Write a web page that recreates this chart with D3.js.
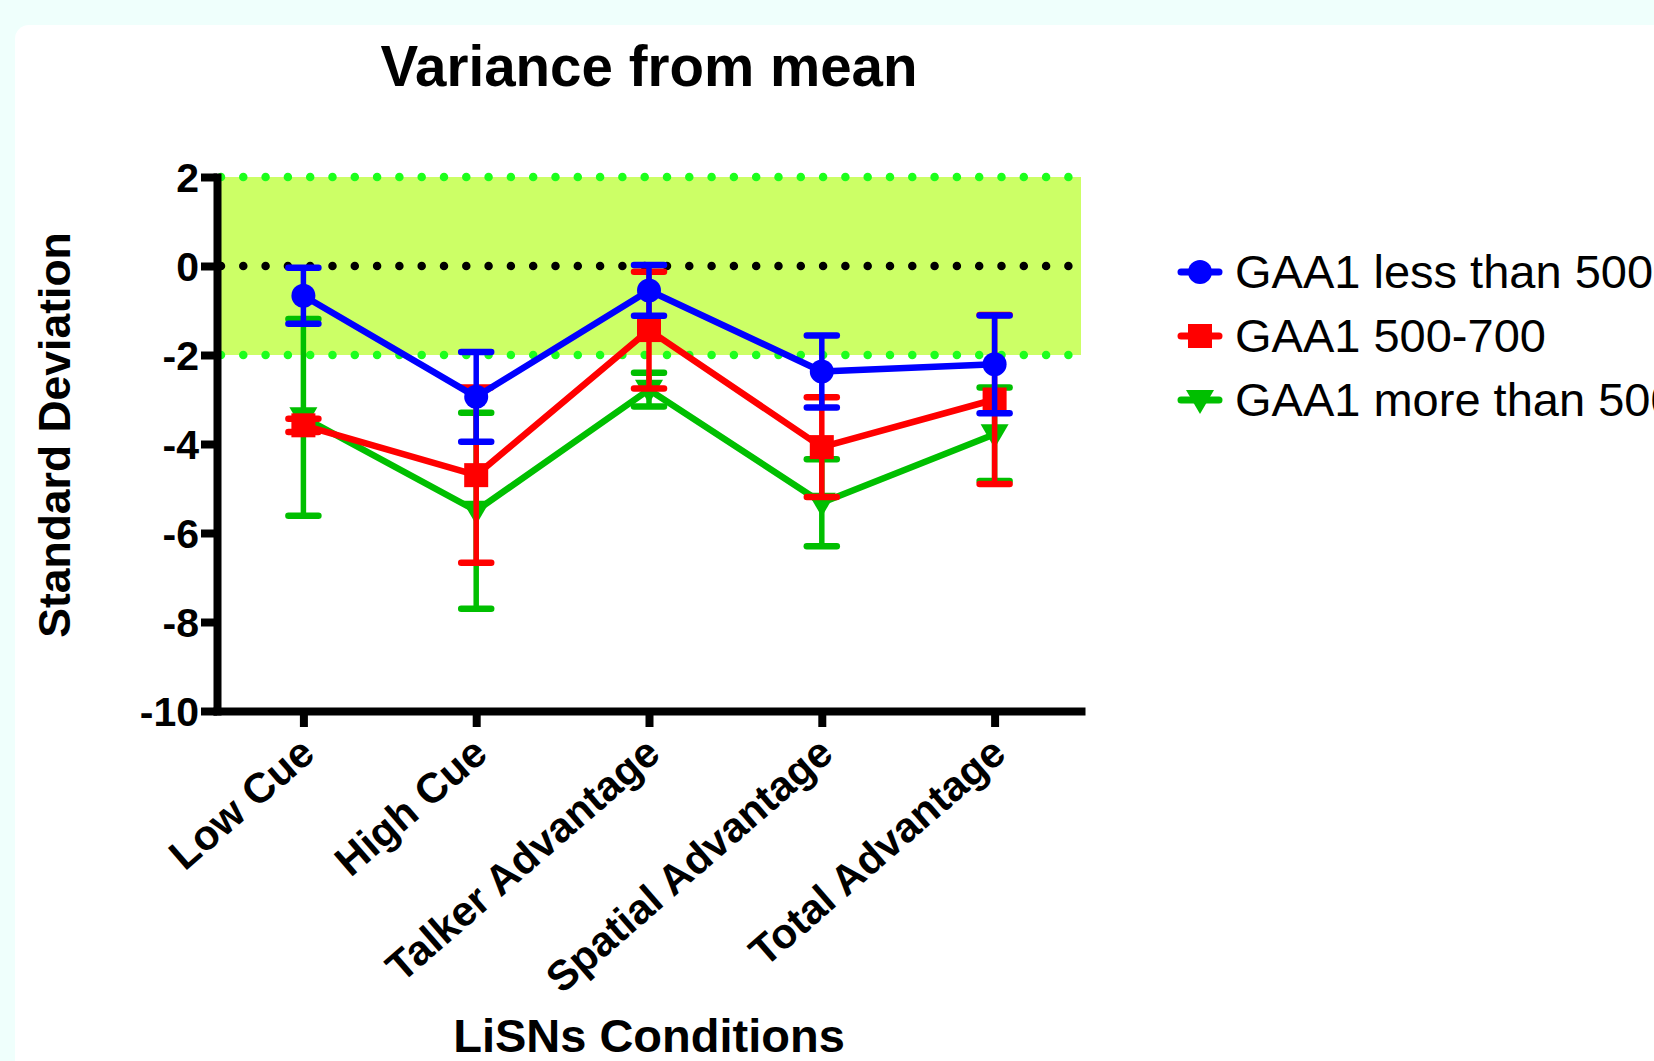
<!DOCTYPE html>
<html>
<head>
<meta charset="utf-8">
<script src="https://cdn.jsdelivr.net/npm/d3@7"></script>
<style>
  html, body { margin: 0; padding: 0; background: #effffc; }
  svg text { font-family: "Liberation Sans", Arial, Helvetica, sans-serif; }
</style>
</head>
<body>
<div id="chart"></div>
<script>
// categories on the x axis
const categories = ["Low Cue", "High Cue", "Talker Advantage", "Spatial Advantage", "Total Advantage"];
const seriesNames = ["GAA1 less than 500", "GAA1 500-700", "GAA1 more than 500"];

// mean and error (+/-) per category
const lessMean = [-0.67, -2.94, -0.55, -2.37, -2.21];
const lessErr  = [0.63, 1.01, 0.57, 0.81, 1.10];
const midMean  = [-3.58, -4.70, -1.44, -4.07, -3.00];
const midErr   = [0.15, 1.97, 1.31, 1.12, 1.90];
const moreMean = [-3.40, -5.50, -2.78, -5.32, -3.78];
const moreErr  = [2.21, 2.20, 0.38, 0.98, 1.05];

const yTicks = [2, 0, -2, -4, -6, -8, -10];
const band = [-2, 2];

const width = 1654, height = 1061;
const margins = { top: 177, left: 217, right: 573, bottom: 350 };

// drawn in this order so blue ends up on top
const series = [
  { name: seriesNames[2], mean: moreMean, err: moreErr, color: "#00bf00", shape: "tri" },
  { name: seriesNames[1], mean: midMean, err: midErr, color: "#ff0000", shape: "square" },
  { name: seriesNames[0], mean: lessMean, err: lessErr, color: "#0000ff", shape: "circle" }
];

const svg = d3.select("#chart").append("svg")
  .attr("width", width)
  .attr("height", height);

// white panel over the pale background
svg.append("rect")
  .attr("x", 15).attr("y", 25)
  .attr("width", width).attr("height", height)
  .attr("rx", 14)
  .attr("fill", "#ffffff");

const xScale = d3.scalePoint()
  .domain(categories)
  .range([margins.left, width - margins.right])
  .padding(0.5);

const yScale = d3.scaleLinear()
  .domain([-10, 2])
  .range([height - margins.bottom, margins.top]);

const x0 = margins.left, x1 = width - margins.right;

// normal range band
svg.append("rect")
  .attr("x", x0)
  .attr("y", yScale(band[1]))
  .attr("width", x1 - x0)
  .attr("height", yScale(band[0]) - yScale(band[1]))
  .attr("fill", "#ccff66");

const dotted = (v, color) => svg.append("line")
  .attr("x1", x0 + 4).attr("x2", x1)
  .attr("y1", yScale(v)).attr("y2", yScale(v))
  .attr("stroke", color)
  .attr("stroke-width", 8.5)
  .attr("stroke-linecap", "round")
  .attr("stroke-dasharray", "0,22.3");

dotted(band[1], "#1cff1c");
dotted(band[0], "#1cff1c");
dotted(0, "#000000");

// axes
const yAxis = d3.axisLeft(yScale)
  .tickValues(yTicks)
  .tickFormat(d => String(d))
  .tickSize(16)
  .tickSizeOuter(0)
  .tickPadding(2);

const xAxis = d3.axisBottom(xScale)
  .tickSize(16)
  .tickSizeOuter(0)
  .tickPadding(0);

const gy = svg.append("g")
  .attr("transform", `translate(${x0},0)`)
  .call(yAxis);

const gx = svg.append("g")
  .attr("transform", `translate(0,${yScale(-10)})`)
  .call(xAxis);

[gx, gy].forEach(g => {
  g.select(".domain").attr("stroke", "#000").attr("stroke-width", 8).attr("stroke-linecap", "square");
  g.selectAll(".tick line").attr("stroke", "#000").attr("stroke-width", 8);
});

gy.selectAll(".tick text")
  .attr("fill", "#000")
  .style("font-size", "41px")
  .style("font-weight", "bold")
  .attr("dy", "0.36em");

gx.selectAll(".tick text")
  .attr("fill", "#000")
  .style("font-size", "42px")
  .style("font-weight", "bold")
  .attr("text-anchor", "end")
  .attr("dy", 0)
  .attr("transform", "translate(13,46) rotate(-41)")
  .attr("y", 0);

// series: lines, error bars, markers
const line = d3.line()
  .x((d, i) => xScale(categories[i]))
  .y(d => yScale(d));

const capW = 15;

series.forEach(s => {
  const g = svg.append("g");
  g.append("path")
    .attr("d", line(s.mean))
    .attr("fill", "none")
    .attr("stroke", s.color)
    .attr("stroke-width", 6.5)
    .attr("stroke-linejoin", "round");

  s.mean.forEach((m, i) => {
    const cx = xScale(categories[i]);
    const top = yScale(m + s.err[i]);
    const bot = yScale(m - s.err[i]);
    g.append("line")
      .attr("x1", cx).attr("x2", cx)
      .attr("y1", top).attr("y2", bot)
      .attr("stroke", s.color).attr("stroke-width", 5.5);
    [top, bot].forEach(yy => {
      g.append("line")
        .attr("x1", cx - capW).attr("x2", cx + capW)
        .attr("y1", yy).attr("y2", yy)
        .attr("stroke", s.color).attr("stroke-width", 6.5)
        .attr("stroke-linecap", "round");
    });
  });

  s.mean.forEach((m, i) => {
    drawMarker(g, s.shape, xScale(categories[i]), yScale(m), s.color);
  });
});

function drawMarker(g, shape, cx, cy, color) {
  if (shape === "circle") {
    g.append("circle").attr("cx", cx).attr("cy", cy).attr("r", 12).attr("fill", color);
  } else if (shape === "square") {
    g.append("rect").attr("x", cx - 12).attr("y", cy - 12).attr("width", 24).attr("height", 24).attr("fill", color);
  } else {
    g.append("path")
      .attr("d", `M${cx - 14},${cy - 10}L${cx + 14},${cy - 10}L${cx},${cy + 14}Z`)
      .attr("fill", color);
  }
}

// titles
svg.append("text")
  .attr("x", (x0 + x1) / 2).attr("y", 86)
  .attr("text-anchor", "middle")
  .style("font-size", "56.5px").style("font-weight", "bold")
  .text("Variance from mean");

svg.append("text")
  .attr("transform", `translate(70,${(yScale(2) + yScale(-10)) / 2 - 9}) rotate(-90)`)
  .attr("text-anchor", "middle")
  .style("font-size", "44.5px").style("font-weight", "bold")
  .text("Standard Deviation");

svg.append("text")
  .attr("x", (x0 + x1) / 2).attr("y", 1052)
  .attr("text-anchor", "middle")
  .style("font-size", "47px").style("font-weight", "bold")
  .text("LiSNs Conditions");

// legend, listed in the order of seriesNames
const legendOrder = [series[2], series[1], series[0]];
const legend = svg.append("g").attr("transform", "translate(1200,272)");
legendOrder.forEach((s, i) => {
  const row = legend.append("g").attr("transform", `translate(0,${i * 64})`);
  row.append("line")
    .attr("x1", -19).attr("x2", 19)
    .attr("y1", 0).attr("y2", 0)
    .attr("stroke", s.color).attr("stroke-width", 7)
    .attr("stroke-linecap", "round");
  drawMarker(row, s.shape, 0, 0, s.color);
  row.append("text")
    .attr("x", 35).attr("y", 0)
    .attr("dy", "0.35em")
    .style("font-size", "47px")
    .text(s.name);
});
</script>
</body>
</html>
